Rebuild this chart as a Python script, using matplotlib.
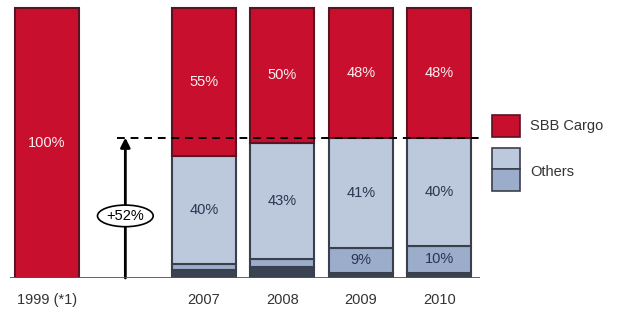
import matplotlib.pyplot as plt
from matplotlib.patches import Ellipse, Rectangle

plt.rcParams['font.family'] = ['Liberation Sans', 'DejaVu Sans']

years = ['1999 (*1)', '2007', '2008', '2009', '2010']
positions = [0, 2, 3, 4, 5]
# shares in %, from bottom to top
dark_part = [0, 3, 4, 2, 2]
mid_part = [0, 2, 3, 9, 10]
light_part = [0, 40, 43, 41, 40]
sbb_cargo = [100, 55, 50, 48, 48]
growth_pos = 1
growth = 52

red = '#c8102e'
light = '#bcc8dc'
mid = '#9cadcc'
dark = '#3b4352'
edge = '#3a3f4c'

fig = plt.figure(figsize=(6.25, 3.26), dpi=100)
ax = fig.add_axes([10 / 625, 48 / 326, 470 / 625, 273 / 326])

w = 0.82
b1 = dark_part
b2 = [a + b for a, b in zip(b1, mid_part)]
b3 = [a + b for a, b in zip(b2, light_part)]

ax.bar(positions, dark_part, w, color=dark, edgecolor=edge, linewidth=1.5)
ax.bar(positions, mid_part, w, bottom=b1, color=mid, edgecolor=edge, linewidth=1.5)
ax.bar(positions, light_part, w, bottom=b2, color=light, edgecolor=edge, linewidth=1.5)
ax.bar(positions, sbb_cargo, w, bottom=b3, color=red, edgecolor='#5a1322', linewidth=1.5)

for i, x in enumerate(positions):
    ax.text(x, b3[i] + sbb_cargo[i] / 2, f'{sbb_cargo[i]}%', ha='center', va='center',
            color='#fbeef0', fontsize=10.5)
    if light_part[i]:
        ax.text(x, b2[i] + light_part[i] / 2, f'{light_part[i]}%', ha='center', va='center',
                color='#2a3550', fontsize=10.5)
    if mid_part[i] >= 9:
        ax.text(x, b1[i] + mid_part[i] / 2, f'{mid_part[i]}%', ha='center', va='center',
                color='#2a3550', fontsize=10.5)

# growth arrow and dashed reference line
ax.annotate('', xy=(growth_pos, growth), xytext=(growth_pos, 0),
            arrowprops=dict(arrowstyle='-|>', color='black', lw=2, mutation_scale=14,
                            shrinkA=0, shrinkB=0))
ax.plot([growth_pos - 0.1, 5.52], [growth, growth], color='black', lw=1.4,
        linestyle=(0, (4, 3)), zorder=5)
ax.add_patch(Ellipse((growth_pos, 23), 0.71, 8, facecolor='white', edgecolor='black',
                     lw=1.2, zorder=6))
ax.text(growth_pos, 23, f'+{growth}%', ha='center', va='center', fontsize=10.5, zorder=7)

ax.axhline(0, color='#555555', lw=2, zorder=4)
ax.set_xlim(-0.47, 5.52)
ax.set_ylim(0, 101.1)
ax.axis('off')

for x, lab in zip(positions, years):
    ax.text(x, -8, lab, ha='center', va='center', fontsize=10.5, color='#333333')

# legend
fig.add_artist(Rectangle((0.787, 0.580), 0.045, 0.067, transform=fig.transFigure,
                         facecolor=red, edgecolor='#5a1322', lw=1.2))
fig.add_artist(Rectangle((0.787, 0.482), 0.045, 0.064, transform=fig.transFigure,
                         facecolor=light, edgecolor=edge, lw=1.2))
fig.add_artist(Rectangle((0.787, 0.414), 0.045, 0.068, transform=fig.transFigure,
                         facecolor=mid, edgecolor=edge, lw=1.2))
fig.text(0.848, 0.612, 'SBB Cargo', va='center', fontsize=10.5, color='#333333')
fig.text(0.848, 0.472, 'Others', va='center', fontsize=10.5, color='#333333')

fig.savefig('out.png', dpi=100)
